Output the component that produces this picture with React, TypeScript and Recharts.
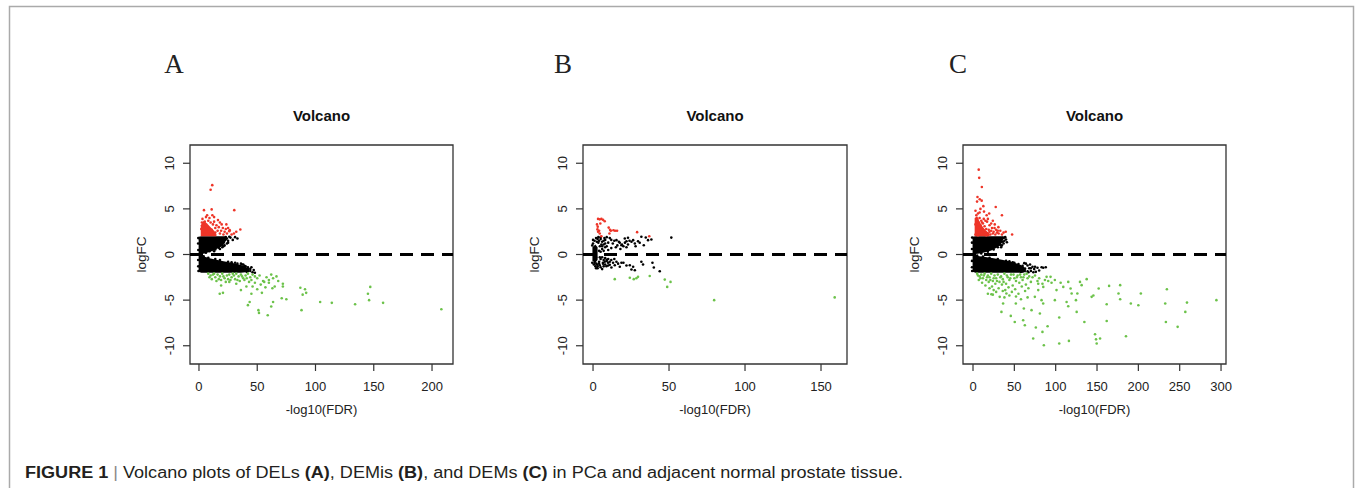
import React from 'react';
import {
  ComposedChart,
  Scatter,
  Area,
  XAxis,
  YAxis,
  ReferenceLine,
  ReferenceArea
} from 'recharts';

// ---- panel A (DELs) ----
const aCorePos = [[-0.3, 0.05, 1.95], [2, 0.05, 2], [5, 0.12, 2], [12, 0.4, 2], [19, 0.85, 2], [22, 1.2, 2], [23.5, 1.9, 2]];
const aCoreNeg = [[-0.3, -0.1, -1.9], [2, -0.15, -2], [5, -0.25, -2], [10, -0.45, -2], [20, -0.7, -2], [30, -0.95, -2], [36, -1.15, -2], [40, -1.35, -1.95], [43, -1.6, -1.95]];
const aRedCore = [[1.5, 2, 3.2], [4, 2, 3.7], [7, 2, 3.4], [10, 2, 3.0], [13, 2, 2.6], [15, 2, 2.2]];
const aBlack = [[23, 1.7], [25, 1.5], [27, 1.85], [29, 1.6], [31, 1.9], [24, 1.2], [22, 1.0], [20, 0.8], [33, 1.75], [40, -1.3], [42, -1.6], [44, -1.8], [46, -1.95], [47, -1.7], [38, -1.1], [36, -1.0], [45, -1.4], [41, -1.9], [48, -2.0],
  [6, 0.2], [9, 0.35], [14, 0.55], [17, 0.75], [20, 1.05], [21.5, 1.4], [23, 1.9], [22.5, 1.6], [24, 1.75], [21, 0.9], [18, 0.6], [13, 0.35], [26, 1.95], [25, 1.3],
  [-0.6, 0.5], [-0.7, 1.2], [-0.6, 1.8], [-0.7, -0.6], [-0.6, -1.3], [-0.4, -1.8],
  [4, -0.2], [8, -0.35], [14, -0.5], [18, -0.6], [25, -0.8], [28, -0.85], [33, -1.0], [37, -1.1], [42, -1.4], [39, -1.25], [44, -1.6], [31, -0.9]];
const aUp = [[11.4, 7.6], [10, 7.1], [4.3, 4.86], [10.9, 4.94], [30.3, 4.86], [11.5, 4.3], [16.3, 3.77], [23.5, 3.3], [26.4, 2.67], [30, 2.3], [35.5, 2.74], [32, 2.5], [22, 2.5], [19.5, 3.3], [20.5, 2.9], [23, 2.8], [26, 2.56], [28, 2.2], [18, 2.3], [15, 3.2], [13, 3.6], [9, 4.0], [6, 4.1], [3, 3.9], [2.5, 3.5], [5, 3.6], [8, 3.7], [12, 3.3], [14, 2.9], [16, 2.6], [17, 3.0], [10, 3.5], [7, 3.0], [11, 2.7], [4, 3.2], [2, 2.8], [3, 2.4], [6, 2.5], [9, 2.3], [12, 2.2], [19, 2.6], [21, 2.2], [24, 2.3], [14, 2.4], [8, 2.8], [5, 2.2], [25, 2.9], [18, 3.5], [13, 4.1], [7, 4.3]];
const aDown = [[8, -2.1], [10, -2.3], [12, -2.2], [14, -2.5], [16, -2.2], [18, -2.4], [20, -2.1], [22, -2.6], [24, -2.3], [26, -2.2], [28, -2.5], [30, -2.3], [32, -2.1], [34, -2.4], [36, -2.2], [38, -2.6], [40, -2.3], [42, -2.1], [44, -2.5], [46, -2.2], [11, -2.7], [15, -2.9], [19, -2.8], [23, -3.0], [27, -2.8], [31, -2.7], [35, -2.9], [39, -2.8], [43, -3.0], [9, -2.5], [13, -2.1], [17, -2.7], [21, -2.4], [25, -2.7], [29, -2.1], [33, -2.8], [37, -2.4], [41, -2.6], [45, -2.8], [48, -2.4], [50, -2.6], [52, -2.3], [55, -2.9], [58, -2.5], [60, -2.8], [62, -2.2],
  [208, -6.0], [158, -5.3], [147, -3.55], [145, -4.3], [146, -5.0], [134, -5.45], [114, -5.3], [104, -5.2], [88, -6.1], [89, -4.4], [91, -3.8], [92, -4.2], [87, -3.65], [75, -4.9], [71, -4.8], [72, -3.2], [72, -3.5], [66.5, -2.4], [63.6, -2.6], [65, -3.5], [63, -3.7], [63.6, -5.2], [62, -5.7], [59, -6.65], [54, -4.2], [56, -3.0], [51, -6.1], [51.5, -6.4], [42, -5.55], [43.5, -5.2], [45, -4.3], [46, -3.5], [40.7, -3.5], [36, -3.9], [32, -3.2], [26, -3.0], [19, -3.4], [17.8, -4.3], [20.6, -4.2], [53, -3.3], [57, -3.6], [60, -3.1], [68, -2.9], [48, -3.1], [50, -3.8]];

// ---- panel B (DEMis) ----
const bCore = [[-0.4, -0.7, 0.8], [1.5, -0.9, 1.1], [3, -0.6, 0.8]];
const bBlack = [[5, 1.7], [6, 1.4], [7, 1.1], [8, 1.6], [9, 0.9], [10, 1.3], [11, 1.8], [12, 0.7], [13, 1.2], [14, 1.5], [15, 0.8], [16, 1.0], [17, 1.4], [18, 0.6], [19, 1.1], [6, 0.6], [7, 0.4], [8, 0.8], [5, 0.3], [4, 1.5], [3, 1.7], [2, 1.8], [9, 1.9], [10, 0.5], [12, 1.6], [20, 0.9], [21, 1.3], [22, 0.8], [24, 1.5], [28, 0.9], [23, 1.1], [51.5, 1.85],
  [17.6, 1.28], [18.7, 1.02], [20.9, 1.75], [22, 1.46], [23, 1.83], [25.3, 1.39], [26.4, 1.57], [27.5, 1.2], [29.6, 1.46], [30.7, 1.28], [31.8, 1.94], [33.4, 1.02], [34.7, 1.86], [36.2, 1.57], [38.4, 1.65], [15.4, 1.57],
  [2.2, -1.0], [4.4, -1.17], [6.6, -1.0], [7.7, -0.8], [8.8, -1.28], [9.9, -0.91], [11, -1.13], [12.1, -1.43], [13.2, -0.91], [14.3, -1.17], [15.4, -0.8], [16.5, -1.0], [17.6, -1.35], [18.7, -0.91], [24.2, -1.17], [25.3, -1.65], [26.4, -1.35], [27.5, -1.72], [31.8, -0.8], [32.9, -1.1], [39.1, -0.91], [40, -1.43], [43.9, -1.83],
  [5, -0.5], [6, -0.3], [7, -0.6], [8, -0.4], [9, -0.7], [10, -0.5], [11, -0.8], [3, -1.3], [2, -1.5], [4, -0.8], [5, -1.4], [6, -1.6], [7, -1.3], [12, -0.6], [14, -0.5], [20, -0.9], [22, -1.2],
  [0, 1.2], [1, 1.5], [0.5, -1.1], [1.5, -1.3], [2.5, 1.4], [3.5, 1.3], [4, -1.0], [4.5, 0.9], [5.5, 1.1], [3, -1.5], [0, 1.6], [2, -0.3], [4, 0.4], [4.5, -0.3], [6, 0.9], [7, 1.5], [8, 1.2], [6.5, -0.9], [8, -1.1], [9, -0.6], [10, -1.2], [3.5, 1.9], [5, 1.9], [7.5, 1.8], [-0.5, 1.0], [-0.5, -0.9], [1, -0.9], [2.5, -1.1]];
const bUp = [[3.3, 3.9], [4.4, 3.85], [5.5, 3.9], [6.6, 3.8], [7.7, 3.65], [2.6, 3.3], [3.1, 3.05], [2.9, 2.75], [4.0, 2.6], [3.3, 2.5], [4.8, 3.4], [5.5, 2.0], [4.4, 2.3], [10.3, 2.95], [11.2, 2.7], [11.7, 2.6], [13.4, 2.65], [14.5, 2.6], [15.8, 2.6], [10.8, 2.3], [29, 2.45], [37, 2.0]];
const bDown = [[14.3, -2.7], [24.2, -2.55], [26.8, -2.7], [28.5, -2.6], [29.6, -2.45], [37.3, -2.35], [47.2, -2.75], [48.8, -3.55], [51, -3.0], [79.7, -5.0], [159, -4.7]];

// ---- panel C (DEMs) ----
const cCorePos = [[-0.5, 0.05, 1.95], [3, 0.05, 2], [8, 0.12, 2], [15, 0.25, 2], [22, 0.45, 2], [28, 0.7, 2], [32, 0.95, 2], [35, 1.3, 2], [37, 1.8, 2]];
const cCoreNeg = [[-0.5, -0.1, -1.9], [3, -0.12, -2], [8, -0.18, -2], [15, -0.28, -2], [25, -0.42, -2], [35, -0.58, -2], [45, -0.78, -2], [52, -0.95, -2], [58, -1.15, -2], [62, -1.4, -1.95], [64, -1.7, -1.95]];
const cRedCore = [[2, 2, 4.0], [5, 2, 4.2], [8, 2, 3.6], [12, 2, 3.0], [16, 2, 2.6], [20, 2, 2.3]];
const cBlack = [[36, 1.8], [38, 1.5], [40, 1.65], [37, 1.2], [35, 1.0], [39, 1.9], [34, 0.8], [41, 1.35],
  [66, -1.2], [68, -1.5], [70, -1.8], [72, -1.35], [74, -1.6], [76, -1.9], [78, -1.45], [83, -1.4], [85, -1.45], [64, -1.0], [62, -0.95], [69, -1.1], [80, -1.75], [73, -1.95], [60, -1.85], [67, -1.95],
  [10, 0.12], [18, 0.3], [25, 0.55], [30, 0.8], [33, 1.05], [36, 1.4], [38, 1.85], [34, 1.6], [31, 1.3], [27, 0.9],
  [-1.2, 0.6], [-1.2, 1.3], [-1.2, -0.7], [-1.2, -1.4], [-1, 1.85], [-1, -1.8],
  [5, -0.12], [12, -0.22], [20, -0.35], [30, -0.5], [40, -0.68], [48, -0.85], [55, -1.05], [60, -1.25], [63, -1.55], [66, -1.85], [70, -1.5], [58, -1.9], [75, -1.35], [88, -1.4], [50, -0.9], [44, -0.75]];
const cUp = [[6.9, 9.3], [7.5, 8.4], [10.7, 7.4], [5.4, 6.3], [8.1, 6.05], [10.5, 5.9], [4.9, 5.8], [27.5, 5.2], [35, 4.3], [13.3, 4.7], [16.5, 4.3], [19.6, 4.5], [12.5, 5.3], [26.3, 3.3], [39.6, 2.5], [47.3, 2.2], [30.7, 3.0],
  [3, 4.8], [4, 4.3], [5, 3.9], [6, 4.5], [7, 3.5], [8, 4.0], [9, 3.2], [10, 3.7], [11, 2.9], [12, 3.4], [13, 2.6], [14, 3.1], [15, 2.4], [16, 2.8], [17, 3.6], [18, 2.3], [19, 2.7], [20, 3.2], [21, 2.2], [22, 2.6], [23, 2.9], [24, 2.3], [25, 2.5], [27, 2.2], [28, 2.7], [29, 2.4], [31, 2.3], [33, 2.6], [35, 2.2], [37, 2.4], [3, 3.3], [4, 2.8], [5, 2.4], [6, 3.0], [7, 2.6], [8, 2.2], [9, 2.7], [10, 2.3], [11, 3.5], [12, 2.5], [13, 3.9], [14, 2.2], [15, 3.7], [16, 2.1], [18, 3.9], [20, 2.5], [22, 3.4], [24, 3.7], [26, 2.9], [30, 2.6], [3, 2.2], [6, 2.1], [4, 3.6], [8, 4.6], [9, 5.0]];
const cDown = [[294.4, -5.0], [258.8, -5.27], [256.8, -6.29], [247.5, -7.93], [234.5, -3.8], [232.5, -5.37], [233.3, -7.39], [203, -4.28], [200, -5.56], [190.9, -5.37], [185, -8.96], [178, -3.36], [178, -4.9], [176, -4.28], [164.6, -3.44], [161.7, -7.28], [161.7, -5.45], [152, -3.73], [153.7, -9.2], [148.8, -9.3], [147.6, -8.74], [149.6, -9.76], [145.6, -4.5], [143.5, -4.64], [134.7, -7.39], [137.5, -2.7], [131.4, -3.36], [129.4, -3.0], [126.2, -4.28], [124.5, -5.0], [125.4, -6.29], [115.2, -3.0], [118, -3.73], [119.3, -4.28], [113.2, -5.2], [115.2, -5.67], [116, -9.47], [104.3, -9.76], [104.3, -6.9], [109.2, -3.55], [106, -3.1], [101, -3.9], [99, -5.0], [90.2, -7.86], [85.7, -9.95], [84, -8.48], [80.9, -6.47], [76, -8.0], [72.8, -9.2], [70.8, -6.1], [74.8, -4.64], [60.7, -7.2], [62.7, -7.75], [61.5, -5.92], [51.8, -5.37], [45.7, -6.73], [50.5, -7.39], [36.4, -5.37], [34.4, -6.29], [32.3, -4.64], [40.4, -4.28], [22.2, -4.35], [25, -3.9], [84.9, -5.37], [82.9, -5.0], [78.9, -3.9], [89, -2.45], [91, -2.9], [93.8, -2.45], [95, -3.1], [99, -2.8], [85, -3.55], [78.9, -3.2],
  [5, -2.1], [8, -2.4], [10, -2.2], [12, -2.6], [14, -2.1], [16, -2.8], [18, -2.3], [20, -2.5], [22, -2.1], [24, -2.9], [26, -2.3], [28, -2.6], [30, -2.2], [32, -3.0], [34, -2.4], [36, -2.7], [38, -2.1], [40, -3.2], [42, -2.5], [44, -2.8], [46, -2.2], [48, -3.4], [50, -2.6], [52, -2.9], [54, -2.3], [56, -3.1], [58, -2.5], [60, -2.8], [62, -2.2], [64, -3.3], [66, -2.6], [68, -2.4], [70, -3.0], [7, -2.8], [11, -3.1], [15, -3.4], [19, -3.0], [23, -3.5], [27, -3.2], [31, -3.7], [35, -3.3], [39, -3.9], [43, -3.6], [47, -4.1], [51, -3.8], [55, -4.3], [59, -3.5], [63, -4.0], [67, -3.7], [6, -2.3], [9, -2.6], [13, -2.3], [17, -2.5], [21, -2.8], [25, -2.6], [29, -2.9], [33, -2.5], [37, -3.0], [41, -2.3], [45, -2.6], [49, -2.2], [53, -2.5], [57, -2.2], [61, -2.5], [65, -2.1], [72, -2.5], [75, -2.3], [78, -2.9], [80, -2.6], [84, -3.2], [87, -2.8], [20, -3.7], [28, -4.1], [36, -4.0], [44, -4.5], [18, -4.3], [24, -4.4], [52, -4.6], [58, -4.9], [66, -4.7], [38, -4.7]];

const yTicks = [-10, -5, 0, 5, 10];
const xTicksA = [0, 50, 100, 150, 200];
const xTicksB = [0, 50, 100, 150];
const xTicksC = [0, 50, 100, 150, 200, 250, 300];

const FONT = '"Liberation Sans", Arial, Helvetica, sans-serif';
const RED = '#ee3528';
const GREEN = '#6cc24a';

const toPts = (arr: number[][]) => arr.map(([x, y]) => ({ x, y }));
const toBand = (arr: number[][]) => arr.map(([x, lo, hi]) => ({ x, band: [lo, hi] }));

const dot = (color: string, r: number) => (p: any) => (
  <circle cx={p.cx} cy={p.cy} r={r} fill={color} />
);

const YTick = ({ x, y, payload }: any) => (
  <text x={x} y={y} transform={`rotate(-90 ${x} ${y})`} textAnchor="middle"
    fontSize={13} fill="#222" fontFamily={FONT}>
    {payload.value}
  </text>
);

interface PanelProps {
  boxLeft: number;
  boxWidth: number;
  xDomain: [number, number];
  xTicks: number[];
  cores: number[][][];
  redCore?: number[][];
  black: number[][];
  up: number[][];
  down: number[][];
}

const BOX_TOP = 145;
const BOX_H = 219;

const Panel = ({ boxLeft, boxWidth, xDomain, xTicks, cores, redCore, black, up, down }: PanelProps) => (
  <div style={{ position: 'absolute', left: boxLeft - 70, top: BOX_TOP - 10 }}>
    <ComposedChart width={boxWidth + 80} height={BOX_H + 70}
      margin={{ top: 10, right: 10, left: 30, bottom: 30 }}>
      <XAxis type="number" dataKey="x" domain={xDomain} allowDataOverflow ticks={xTicks}
        axisLine={false} tickSize={7} tickMargin={11} height={30}
        tickLine={{ stroke: '#333', strokeWidth: 1.2 }}
        tick={{ fontSize: 13, fill: '#222', fontFamily: FONT }} />
      <YAxis type="number" dataKey="y" domain={[-12, 12]} allowDataOverflow ticks={yTicks}
        axisLine={false} tickSize={7} tickMargin={9} width={40}
        tickLine={{ stroke: '#333', strokeWidth: 1.2 }} tick={<YTick />} />
      {cores.map((c, i) => (
        <Area key={i} data={toBand(c)} dataKey="band" type="linear" stroke="none"
          fill="#000" fillOpacity={1} isAnimationActive={false} />
      ))}
      {redCore && (
        <Area data={toBand(redCore)} dataKey="band" type="linear" stroke="none"
          fill={RED} fillOpacity={1} isAnimationActive={false} />
      )}
      <Scatter data={toPts(black)} shape={dot('#000', 1.3)} isAnimationActive={false} />
      <Scatter data={toPts(up)} shape={dot(RED, 1.3)} isAnimationActive={false} />
      <Scatter data={toPts(down)} shape={dot(GREEN, 1.3)} isAnimationActive={false} />
      <ReferenceLine y={0} stroke="#000" strokeWidth={3} strokeDasharray="13 8" />
      <ReferenceArea x1={xDomain[0]} x2={xDomain[1]} y1={-12} y2={12}
        fill="none" stroke="#333" strokeWidth={1.3} fillOpacity={0} />
    </ComposedChart>
  </div>
);

const panels = [
  { letter: 'A', letterX: 174, boxLeft: 190, boxWidth: 263 },
  { letter: 'B', letterX: 563, boxLeft: 583, boxWidth: 264 },
  { letter: 'C', letterX: 958, boxLeft: 963, boxWidth: 263 }
];

export default function App() {
  return (
    <div style={{ position: 'absolute', left: 0, top: 0, width: 1355, height: 488, background: '#fff', overflow: 'hidden' }}>
      <svg width={1355} height={488} style={{ position: 'absolute', left: 0, top: 0 }}>
        <rect x={9.5} y={6.5} width={1344} height={520} fill="none" stroke="#aaa" strokeWidth={1.5} />
        {panels.map((p) => {
          const cx = p.boxLeft + p.boxWidth / 2;
          const lx = p.boxLeft - 44;
          return (
            <g key={p.letter}>
              <text x={p.letterX} y={73} textAnchor="middle" fontSize={27}
                fontFamily='"Liberation Serif", "Times New Roman", serif' fill="#222">{p.letter}</text>
              <text x={cx} y={121} textAnchor="middle" fontSize={15} fontWeight="bold"
                fontFamily={FONT} fill="#111">Volcano</text>
              <text x={cx} y={414} textAnchor="middle" fontSize={13} fontFamily={FONT} fill="#222">-log10(FDR)</text>
              <text x={lx} y={254.5} transform={`rotate(-90 ${lx} 254.5)`} textAnchor="middle"
                fontSize={13.5} fontFamily={FONT} fill="#222">logFC</text>
            </g>
          );
        })}
        <text x={25} y={478} fontSize={16} fontFamily={FONT} fill="#231f20" textLength={878} lengthAdjust="spacingAndGlyphs">
          <tspan fontWeight="bold">FIGURE 1</tspan>
          <tspan fill="#888"> | </tspan>
          <tspan>Volcano plots of DELs </tspan>
          <tspan fontWeight="bold">(A)</tspan>
          <tspan>, DEMis </tspan>
          <tspan fontWeight="bold">(B)</tspan>
          <tspan>, and DEMs </tspan>
          <tspan fontWeight="bold">(C)</tspan>
          <tspan> in PCa and adjacent normal prostate tissue.</tspan>
        </text>
      </svg>
      <Panel boxLeft={190} boxWidth={263} xDomain={[-7.7, 218]} xTicks={xTicksA}
        cores={[aCorePos, aCoreNeg]} redCore={aRedCore} black={aBlack} up={aUp} down={aDown} />
      <Panel boxLeft={583} boxWidth={264} xDomain={[-6.6, 167.1]} xTicks={xTicksB}
        cores={[bCore]} black={bBlack} up={bUp} down={bDown} />
      <Panel boxLeft={963} boxWidth={263} xDomain={[-12.1, 306]} xTicks={xTicksC}
        cores={[cCorePos, cCoreNeg]} redCore={cRedCore} black={cBlack} up={cUp} down={cDown} />
    </div>
  );
}
